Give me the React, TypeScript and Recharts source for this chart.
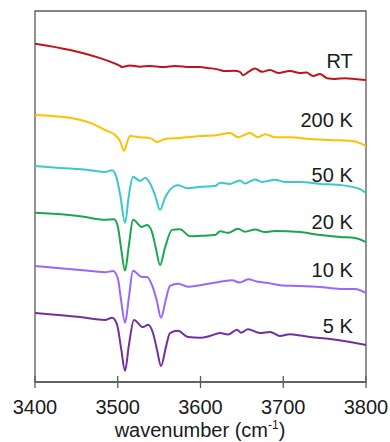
import React from "react";
import { LineChart, Line, XAxis, YAxis, ReferenceArea, ReferenceDot } from "recharts";

// wavenumber (cm^-1), offset absorbance (arb. units)
const rt = [
  [3400, 91.2], [3442.3, 89.5], [3478.6, 87.3], [3502.7, 85.2], [3505.1, 84.9], [3514.8, 85.3],
  [3527, 85.0], [3539, 85.2], [3555, 84.9], [3569.2, 85.2], [3587.3, 84.9], [3599.4, 84.9],
  [3610, 84.6], [3617.5, 84.4], [3623.6, 84.1], [3629.6, 83.8], [3640, 83.9], [3647.7, 83.6],
  [3651.4, 82.7], [3658, 83.6], [3665.9, 84.5], [3674.3, 83.6], [3684, 84.1], [3693.7, 83.3],
  [3708.2, 83.8], [3720.2, 83.3], [3728, 83.4], [3736, 82.5], [3744.4, 83.0], [3752.9, 81.9],
  [3762.6, 81.7], [3774.6, 81.9], [3786.8, 81.7], [3800, 81.4],
];
const k200 = [
  [3400, 72.0], [3442.3, 71.2], [3472.5, 69.3], [3484.6, 67.9], [3496.7, 66.6], [3502.7, 65.0],
  [3507.6, 62.3], [3511, 64.4], [3514.8, 66.3], [3526.9, 66.0], [3539, 65.8], [3547.4, 64.7],
  [3557.1, 65.5], [3575.2, 65.8], [3599.4, 66.3], [3621.2, 66.6], [3635.7, 67.1], [3645.3, 66.0],
  [3659.8, 67.1], [3669.5, 66.0], [3678, 66.8], [3690, 66.0], [3708.2, 66.0], [3732.3, 65.5],
  [3756.5, 65.2], [3780.7, 65.0], [3792.8, 64.4], [3800, 63.6],
];
const k50 = [
  [3400, 58.2], [3430, 57.7], [3466.5, 57.1], [3484.6, 56.6], [3493.1, 57.1], [3498, 55.5],
  [3503, 50.4], [3508.8, 42.9], [3513.5, 50.4], [3518.4, 55.3], [3526.9, 54.2], [3532.9, 55.0],
  [3539, 53.6], [3545, 50.4], [3551.1, 46.4], [3557, 49.6], [3563.1, 51.8], [3572.8, 53.0],
  [3584.9, 52.2], [3599.4, 52.6], [3617.5, 52.8], [3623.6, 53.7], [3635.7, 53.4], [3647.7, 54.3],
  [3653.8, 53.5], [3665.9, 54.6], [3674.3, 53.9], [3681.6, 54.2], [3690, 54.5], [3702.1, 53.9],
  [3720.2, 53.9], [3744.4, 53.4], [3768.6, 53.1], [3792.8, 52.0], [3800, 50.9],
];
const k20 = [
  [3400, 45.6], [3454.4, 44.7], [3484.6, 43.7], [3495.5, 43.9], [3500, 42.0], [3504, 36.1],
  [3508.8, 30.0], [3513.5, 36.9], [3518.4, 43.7], [3529.3, 41.8], [3535.4, 42.3], [3541.4, 40.4],
  [3546, 36.1], [3551.1, 31.5], [3557, 36.1], [3565.6, 41.0], [3575.2, 41.2], [3587.3, 39.3],
  [3599.4, 39.4], [3617.5, 39.6], [3623.6, 40.6], [3633.2, 40.2], [3645.3, 41.3], [3653.8, 40.5],
  [3665.9, 41.1], [3678, 40.4], [3690, 40.7], [3720.2, 40.4], [3744.4, 39.6], [3768.6, 39.1],
  [3786.8, 38.8], [3800, 37.7],
];
const k10 = [
  [3400, 31.3], [3454.4, 30.2], [3484.6, 29.6], [3494.3, 29.9], [3500, 28.0], [3504, 22.1],
  [3508.8, 16.0], [3513.5, 22.9], [3518.4, 30.0], [3529.3, 28.3], [3535.4, 28.3], [3541.4, 26.1],
  [3547, 22.1], [3552.3, 17.3], [3558, 22.1], [3563.1, 25.9], [3572.8, 26.5], [3584.9, 25.7],
  [3599.4, 26.1], [3623.6, 27.0], [3638.1, 27.4], [3647.7, 26.8], [3657.4, 27.7], [3669.5, 27.0],
  [3681.6, 26.7], [3696.1, 26.1], [3720.2, 25.9], [3744.4, 25.6], [3768.6, 25.1], [3786.8, 25.1],
  [3800, 24.0],
];
const k5 = [
  [3400, 18.6], [3454.4, 17.5], [3484.6, 16.7], [3493.1, 17.3], [3499, 15.6], [3504, 9.2],
  [3508.8, 3.0], [3513.5, 10.0], [3519.6, 16.7], [3530.5, 14.8], [3536.6, 15.4], [3542.6, 13.2],
  [3547.5, 8.6], [3552.3, 4.3], [3558, 9.2], [3563.1, 13.2], [3572.8, 13.8], [3584.9, 12.1],
  [3599.4, 11.9], [3611.5, 12.4], [3623.6, 13.2], [3633.2, 12.8], [3644.1, 14.1], [3648.9, 13.3],
  [3657.4, 14.2], [3671.9, 13.2], [3684, 13.5], [3696.1, 12.4], [3708.2, 12.9], [3732.3, 12.1],
  [3756.5, 11.6], [3780.7, 10.8], [3800, 10.0],
];

const seriesNames = ["RT", "200 K", "50 K", "20 K", "10 K", "5 K"];
const seriesData = [rt, k200, k50, k20, k10, k5];
const seriesColors = ["#C0131B", "#FFC000", "#3CC8C8", "#17A84E", "#9966FF", "#7030A0"];
const labelY = [84.6, 68.8, 53.8, 41.2, 28.2, 13.1];
const labelX = 3784;
const xTicks = [3400, 3500, 3600, 3700, 3800];

const toRows = (arr: number[][]) => arr.map(([x, y]) => ({ x, y }));

const Tick = (props: any) => {
  const { x, y, payload } = props;
  return (
    <g>
      <line x1={x} x2={x} y1={y - 6} y2={y + 6} stroke="#595959" strokeWidth={1.3} />
      <text x={x} y={y + 32} textAnchor="middle" fontSize={20} fill="#1a1a1a"
        fontFamily="'Liberation Sans', Arial, sans-serif">{payload.value}</text>
    </g>
  );
};

const SeriesLabel = (text: string) => (props: any) => {
  const vb = props.viewBox || {};
  const x = vb.cx !== undefined ? vb.cx : vb.x;
  const y = vb.cy !== undefined ? vb.cy : vb.y;
  return (
    <text x={x} y={y} textAnchor="end" fontSize={20} fill="#1a1a1a"
      fontFamily="'Liberation Sans', Arial, sans-serif">{text}</text>
  );
};

export default function App() {
  return (
    <div style={{ position: "absolute", left: 0, top: 0, width: 390, height: 442, background: "#fff", overflow: "hidden" }}>
      <LineChart width={390} height={442} margin={{ top: 11, right: 24, bottom: 0, left: 35 }}>
        <XAxis
          type="number"
          dataKey="x"
          domain={[3400, 3800]}
          ticks={xTicks}
          allowDataOverflow
          height={60}
          tickSize={0}
          tickMargin={0}
          tickLine={false}
          axisLine={{ stroke: "#595959", strokeWidth: 1.3 }}
          tick={<Tick />}
          interval={0}
        />
        <YAxis type="number" domain={[0, 100]} hide allowDataOverflow />
        <ReferenceArea x1={3400} x2={3800} y1={0} y2={100} fill="none" stroke="#595959" strokeWidth={1.3} />
        {seriesData.map((d, i) => (
          <Line
            key={seriesNames[i]}
            data={toRows(d)}
            dataKey="y"
            type="monotone"
            stroke={seriesColors[i]}
            strokeWidth={2}
            dot={false}
            activeDot={false}
            isAnimationActive={false}
          />
        ))}
        {seriesNames.map((n, i) => (
          <ReferenceDot key={"l" + n} x={labelX} y={labelY[i]} r={0} fill="none" stroke="none"
            label={SeriesLabel(n)} />
        ))}
      </LineChart>
      <div style={{ position: "absolute", left: 0, width: 400, top: 420, height: 22, lineHeight: "20px", textAlign: "center", fontSize: 20,
        fontFamily: "'Liberation Sans', Arial, sans-serif", color: "#1a1a1a", whiteSpace: "nowrap" }}>
        wavenumber (cm<sup style={{ fontSize: 12, lineHeight: 0 }}>-1</sup>)
      </div>
    </div>
  );
}
